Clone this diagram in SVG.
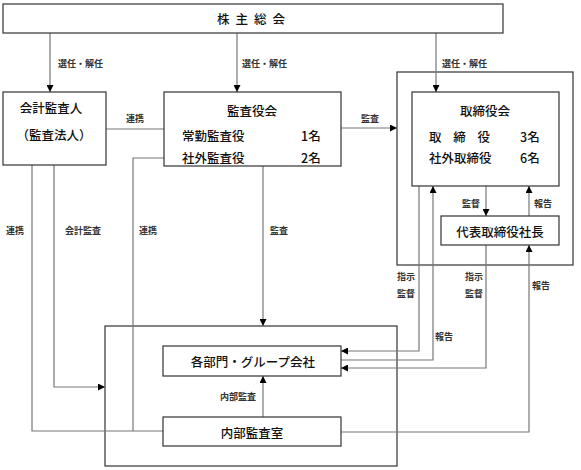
<svg xmlns="http://www.w3.org/2000/svg" width="581" height="470" viewBox="0 0 581 470">
<defs>
<marker id="ah" viewBox="0 0 8 8" refX="8" refY="4" markerWidth="7" markerHeight="7" markerUnits="userSpaceOnUse" orient="auto">
<path d="M0,0 L8,4 L0,8 Z" fill="#000"/>
</marker>
<style>
.box{fill:#fff;stroke:#333;stroke-width:1.2}
.frame{fill:none;stroke:#333;stroke-width:1.2}
.ln{fill:none;stroke:#777;stroke-width:1.2}
.arr{fill:none;stroke:#777;stroke-width:1.2;marker-end:url(#ah)}
text{font-family:"Noto Sans CJK JP","Noto Sans",sans-serif;fill:#111;dominant-baseline:central}
.t{font-size:12.5px;font-weight:500}
.l{font-size:9px;font-weight:700;fill:#333}
.c{text-anchor:middle}
</style>
</defs>
<rect x="0" y="0" width="581" height="470" fill="#fff"/>
<g id="frames">
<rect class="frame" x="397" y="72" width="176" height="193"/>
<rect class="frame" x="105" y="326" width="292" height="140"/>
</g>
<g id="connectors">
<line class="arr" x1="50" y1="33" x2="50" y2="92"/>
<line class="arr" x1="237" y1="33" x2="237" y2="92"/>
<line class="arr" x1="436" y1="33" x2="436" y2="92"/>
<line class="ln" x1="106" y1="129" x2="164" y2="129"/>
<line class="arr" x1="341" y1="128" x2="397" y2="128"/>
<line class="arr" x1="263" y1="166" x2="263" y2="326"/>
<line class="arr" x1="486" y1="186" x2="486" y2="216"/>
<line class="arr" x1="529" y1="216" x2="529" y2="186"/>
<polyline class="arr" points="419,186 419,351 341,351"/>
<polyline class="arr" points="341,360 433,360 433,186"/>
<polyline class="arr" points="486,245 486,368 341,368"/>
<polyline class="arr" points="341,432 529,432 529,245"/>
<line class="arr" x1="263" y1="417" x2="263" y2="376"/>
<polyline class="ln" points="32,165 32,431 163,431"/>
<polyline class="arr" points="54,165 54,387 105,387"/>
<polyline class="ln" points="164,158 133,158 133,431"/>
</g>
<g id="labels">
<text class="l" x="58" y="63">選任・解任</text>
<text class="l" x="242" y="63">選任・解任</text>
<text class="l" x="442" y="63">選任・解任</text>
<text class="l c" x="135" y="118">連携</text>
<text class="l c" x="370" y="118">監査</text>
<text class="l c" x="15" y="230">連携</text>
<text class="l c" x="83" y="230">会計監査</text>
<text class="l c" x="148" y="230">連携</text>
<text class="l c" x="279" y="230">監査</text>
<text class="l c" x="238" y="396">内部監査</text>
<text class="l c" x="471" y="203">監督</text>
<text class="l c" x="543" y="203">報告</text>
<text class="l c" x="406" y="276">指示</text>
<text class="l c" x="406" y="293">監督</text>
<text class="l c" x="474" y="276">指示</text>
<text class="l c" x="474" y="293">監督</text>
<text class="l c" x="444" y="336">報告</text>
<text class="l c" x="541" y="285">報告</text>
</g>
<g id="shareholders">
<rect class="box" x="3" y="4" width="500" height="29"/>
<text class="t c" x="254" y="18" letter-spacing="6">株主総会</text>
</g>
<g id="accounting-auditor">
<rect class="box" x="3" y="92" width="103" height="73"/>
<text class="t c" x="51" y="107">会計監査人</text>
<text class="t c" x="54" y="134">（監査法人）</text>
</g>
<g id="audit-board">
<rect class="box" x="164" y="92" width="177" height="74"/>
<text class="t c" x="252" y="110">監査役会</text>
<text class="t" x="182" y="135">常勤監査役</text>
<text class="t" x="301" y="135">1名</text>
<text class="t" x="182" y="157">社外監査役</text>
<text class="t" x="301" y="157">2名</text>
</g>
<g id="board">
<rect class="box" x="412" y="92" width="147" height="94"/>
<text class="t c" x="485" y="110">取締役会</text>
<text class="t" x="429" y="136" textLength="61" lengthAdjust="spacing">取締役</text>
<text class="t" x="520" y="136">3名</text>
<text class="t" x="429" y="157">社外取締役</text>
<text class="t" x="520" y="157">6名</text>
</g>
<g id="president">
<rect class="box" x="441" y="216" width="118" height="29"/>
<text class="t c" x="500" y="231">代表取締役社長</text>
</g>
<g id="departments">
<rect class="box" x="163" y="346" width="178" height="30"/>
<text class="t c" x="253" y="361">各部門・グループ会社</text>
</g>
<g id="internal-audit">
<rect class="box" x="163" y="417" width="178" height="29"/>
<text class="t c" x="252" y="432">内部監査室</text>
</g>
</svg>
